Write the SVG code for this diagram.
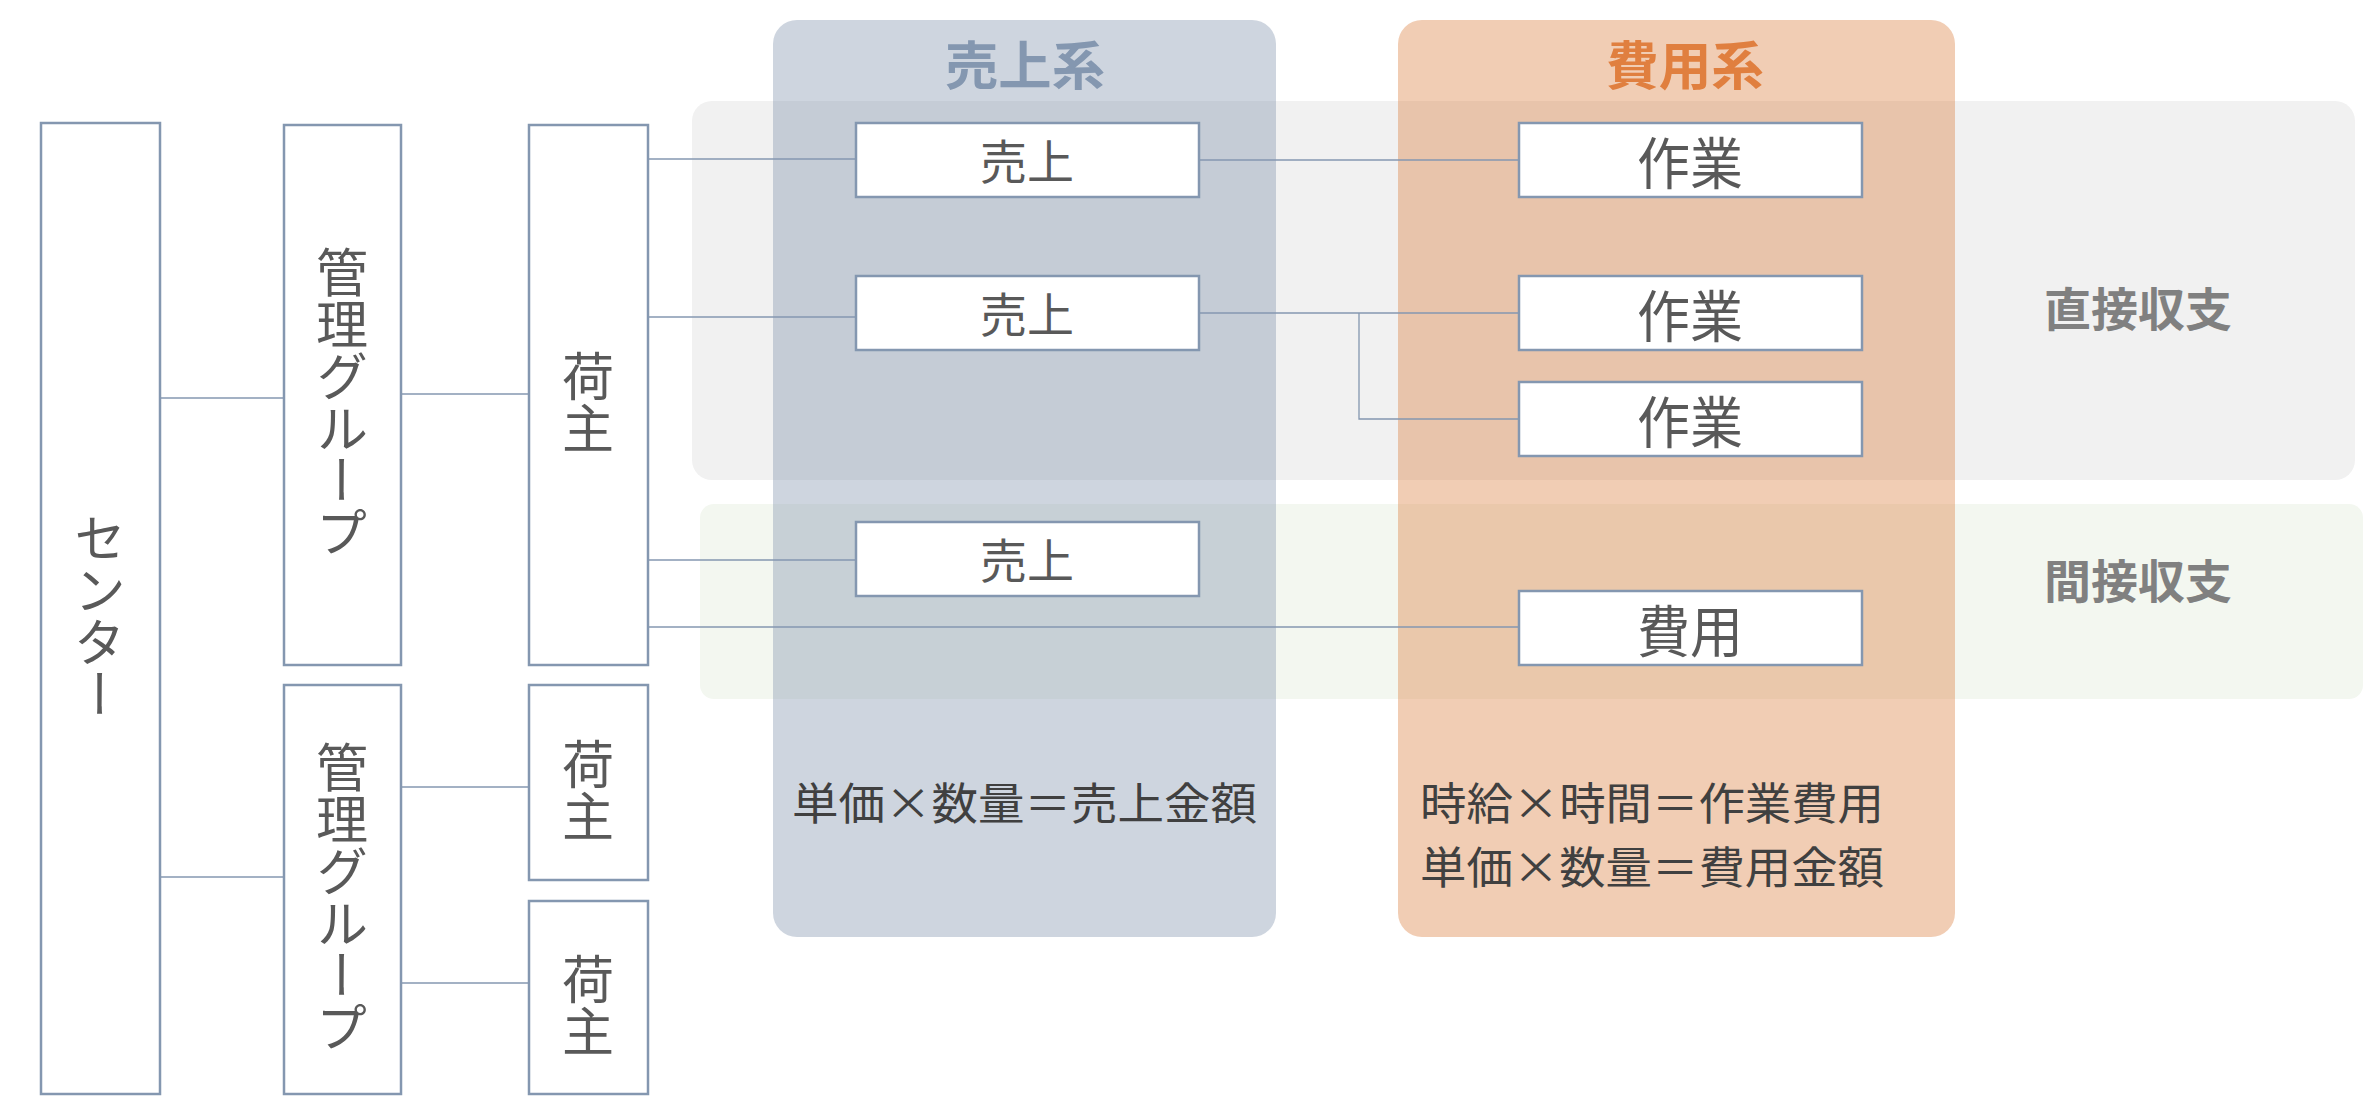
<svg xmlns="http://www.w3.org/2000/svg" width="2378" height="1104" viewBox="0 0 2378 1104">
<style>
.node{fill:#ffffff;stroke:#8497b0;stroke-width:2.5}
.lbl{font-family:"Noto Sans CJK JP","Noto Sans CJK SC",sans-serif;fill:#595959;text-anchor:middle;dominant-baseline:central}
.vt{font-family:"Noto Sans CJK JP","Noto Sans CJK SC",sans-serif;fill:#595959;font-size:52px;text-anchor:middle;writing-mode:vertical-rl}
.conn{stroke:#8497b0;stroke-width:1.3;fill:none}
.title{font-family:"Noto Sans CJK JP","Noto Sans CJK SC",sans-serif;font-weight:bold;text-anchor:middle;dominant-baseline:central}
.formula{font-family:"Noto Sans CJK JP","Noto Sans CJK SC",sans-serif;fill:#404040;font-size:44px;dominant-baseline:central}
</style>
<rect width="2378" height="1104" fill="#ffffff"/>
<g id="bands">
<rect x="692" y="101" width="1663" height="379" rx="20" fill="#f1f1f1"/>
<rect x="700" y="504" width="1663" height="195" rx="14" fill="#f3f7f0"/>
</g>
<g id="panels">
<rect x="773" y="20" width="503" height="917" rx="24" fill="#8497b0" fill-opacity="0.4"/>
<rect x="1398" y="20" width="557" height="917" rx="24" fill="#dc8243" fill-opacity="0.4"/>
</g>
<g id="labels">
<text class="title" x="1025" y="62" font-size="52" fill="#8497b0" textLength="160" lengthAdjust="spacingAndGlyphs">売上系</text>
<text class="title" x="1685" y="62" font-size="52" fill="#e07f3f" textLength="158" lengthAdjust="spacingAndGlyphs">費用系</text>
<text class="title" x="2138" y="306" font-size="46" fill="#808080" textLength="188" lengthAdjust="spacingAndGlyphs">直接収支</text>
<text class="title" x="2138" y="578" font-size="46" fill="#808080" textLength="188" lengthAdjust="spacingAndGlyphs">間接収支</text>
<text class="formula" x="792" y="801" textLength="465" lengthAdjust="spacingAndGlyphs">単価×数量＝売上金額</text>
<text class="formula" x="1420" y="801" textLength="464" lengthAdjust="spacingAndGlyphs">時給×時間＝作業費用</text>
<text class="formula" x="1420" y="865" textLength="464" lengthAdjust="spacingAndGlyphs">単価×数量＝費用金額</text>
</g>
<g id="connectors">
<line class="conn" x1="161" y1="398" x2="284" y2="398"/>
<line class="conn" x1="161" y1="877" x2="284" y2="877"/>
<line class="conn" x1="402" y1="394" x2="529" y2="394"/>
<line class="conn" x1="402" y1="787" x2="529" y2="787"/>
<line class="conn" x1="402" y1="983" x2="529" y2="983"/>
<line class="conn" x1="649" y1="159" x2="856" y2="159"/>
<line class="conn" x1="649" y1="317" x2="856" y2="317"/>
<line class="conn" x1="649" y1="560" x2="856" y2="560"/>
<line class="conn" x1="649" y1="627" x2="1519" y2="627"/>
<line class="conn" x1="1200" y1="160" x2="1519" y2="160"/>
<line class="conn" x1="1200" y1="313" x2="1519" y2="313"/>
<polyline class="conn" points="1359,313 1359,419 1519,419"/>
</g>
<g id="center">
<rect class="node" x="41" y="123" width="119" height="971"/>
<text class="vt" x="100" y="616">センター</text>
</g>
<g id="group1">
<rect class="node" x="284" y="125" width="117" height="540"/>
<text class="vt" x="342" y="402">管理グループ</text>
</g>
<g id="group2">
<rect class="node" x="284" y="685" width="117" height="409"/>
<text class="vt" x="342" y="897">管理グループ</text>
</g>
<g id="shipper1">
<rect class="node" x="529" y="125" width="119" height="540"/>
<text class="vt" x="588" y="402">荷主</text>
</g>
<g id="shipper2">
<rect class="node" x="529" y="685" width="119" height="195"/>
<text class="vt" x="588" y="790">荷主</text>
</g>
<g id="shipper3">
<rect class="node" x="529" y="901" width="119" height="193"/>
<text class="vt" x="588" y="1005">荷主</text>
</g>
<g id="sales1">
<rect class="node" x="856" y="123" width="343" height="74"/>
<text class="lbl" x="1027" y="158" font-size="47">売上</text>
</g>
<g id="sales2">
<rect class="node" x="856" y="276" width="343" height="74"/>
<text class="lbl" x="1027" y="311" font-size="47">売上</text>
</g>
<g id="sales3">
<rect class="node" x="856" y="522" width="343" height="74"/>
<text class="lbl" x="1027" y="557" font-size="47">売上</text>
</g>
<g id="work1">
<rect class="node" x="1519" y="123" width="343" height="74"/>
<text class="lbl" x="1690" y="159" font-size="56" textLength="106" lengthAdjust="spacingAndGlyphs">作業</text>
</g>
<g id="work2">
<rect class="node" x="1519" y="276" width="343" height="74"/>
<text class="lbl" x="1690" y="312" font-size="56" textLength="106" lengthAdjust="spacingAndGlyphs">作業</text>
</g>
<g id="work3">
<rect class="node" x="1519" y="382" width="343" height="74"/>
<text class="lbl" x="1690" y="418" font-size="56" textLength="106" lengthAdjust="spacingAndGlyphs">作業</text>
</g>
<g id="cost">
<rect class="node" x="1519" y="591" width="343" height="74"/>
<text class="lbl" x="1690" y="627" font-size="56" textLength="106" lengthAdjust="spacingAndGlyphs">費用</text>
</g>
</svg>
